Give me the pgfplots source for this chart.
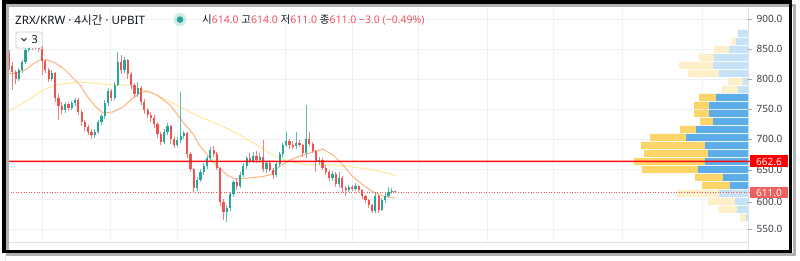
\documentclass[border=0pt]{standalone}
\usepackage{fontspec}
\setmainfont{Noto Sans}
\newfontfamily\cjk{Noto Sans CJK KR}
\usepackage{pgfplots}
\usepackage{pgfplotstable}
\pgfplotsset{compat=1.18}
\definecolor{upc}{HTML}{26A69A}
\definecolor{dnc}{HTML}{EF5350}
\definecolor{gridc}{HTML}{EEF0F4}
\definecolor{vpbs}{HTML}{5DADEA}
\definecolor{vpys}{HTML}{FCD467}
\definecolor{vpbl}{HTML}{C6E2F7}
\definecolor{vpyl}{HTML}{FDEFC8}
\definecolor{maor}{HTML}{FBB27E}
\definecolor{mayel}{HTML}{FFE89A}
\definecolor{txt}{HTML}{131722}
\definecolor{numc}{HTML}{F7525F}
\definecolor{labc}{HTML}{3A3E48}
\definecolor{pline}{HTML}{FC0A0A}
\definecolor{pbox}{HTML}{FF0000}

\pgfplotstableread{
i o h l c
0 843 848 815 822
1 822 828 782 812
2 812 815 792 800
3 800 818 796 815
4 815 832 810 828
5 828 853 825 848
6 848 866 845 858
7 858 865 848 852
8 852 868 848 860
9 860 864 845 850
10 850 855 807 830
11 830 834 810 815
12 815 818 795 800
13 800 815 797 810
14 810 812 762 768
15 768 775 732 755
16 755 762 742 748
17 748 762 744 758
18 758 762 746 752
19 752 764 748 760
20 760 768 755 765
21 765 768 740 745
22 745 748 722 728
23 728 732 714 720
24 720 724 706 712
25 712 716 700 706
26 706 716 702 712
27 712 732 708 728
28 728 742 724 738
29 738 765 734 760
30 760 785 755 780
31 780 784 763 768
32 768 795 765 790
33 790 845 788 828
34 828 840 808 815
35 815 836 810 832
36 832 834 800 808
37 808 812 784 790
38 790 794 768 775
39 775 795 770 785
40 785 788 756 762
41 762 766 742 748
42 748 752 735 740
43 740 745 728 735
44 735 740 718 725
45 725 728 702 708
46 708 712 690 695
47 695 716 692 712
48 712 726 706 722
49 722 724 692 700
50 700 704 685 690
51 690 703 686 698
52 698 778 694 705
53 705 714 700 710
54 710 712 668 675
55 675 678 645 650
56 650 652 610 618
57 618 636 614 632
58 632 650 628 645
59 645 660 640 655
60 655 672 650 668
61 668 687 664 682
62 682 688 670 675
63 675 678 648 652
64 652 654 588 595
65 595 600 565 578
66 578 590 562 585
67 585 612 580 608
68 608 632 604 628
69 628 635 615 622
70 622 645 618 640
71 640 660 636 655
72 655 672 650 668
73 668 676 660 664
74 664 678 660 672
75 672 680 660 665
76 665 676 660 670
77 670 698 645 650
78 650 664 644 660
79 660 665 645 648
80 648 652 634 640
81 640 662 636 658
82 658 678 654 675
83 675 694 670 690
84 690 712 686 697
85 697 700 684 690
86 690 696 684 688
87 688 712 684 694
88 694 698 686 690
89 690 692 670 676
90 676 757 668 700
91 700 712 688 692
92 692 695 676 680
93 680 682 645 662
94 662 670 656 665
95 665 668 648 652
96 652 656 640 645
97 645 648 630 635
98 635 646 630 642
99 642 645 620 625
100 625 645 620 635
101 635 638 612 618
102 618 622 605 615
103 615 624 612 620
104 620 624 613 617
105 617 626 614 622
106 622 624 612 615
107 615 617 600 605
108 605 607 594 598
109 598 600 585 590
110 590 592 576 580
111 580 610 577 605
112 605 608 576 582
113 582 602 580 598
114 598 610 594 605
115 605 620 602 612
116 612 618 608 614
117 614 614 611 611
}\candles

\pgfplotstableread{
x p
8 808.3
15 810
25 815
33 825
40 831.7
47 831.7
55 826.7
63 818.3
72 803.3
80 790
87 771.7
95 755
103 743.3
113 745
123 753.3
133 768.3
140 776.7
147 780
157 773.3
170 756.7
183 728.3
193 708.3
200 688.3
213 661.7
227 640
235 633.3
247 635
260 636.7
270 640
280 655
290 665
303 673.3
313 678.3
323 683.3
333 673.3
343 656.7
353 636.7
363 623.3
373 611.7
383 605
395 601.7
}\maor

\pgfplotstableread{
x p
8 745
20 756.7
33 770
43 781.7
57 790
77 795
93 793.3
110 790
127 790
140 783.3
157 773.3
173 760
180 753.3
200 736.7
220 723.3
240 706.7
260 686.7
273 673.3
287 663.3
303 658.3
320 656.7
333 656.7
347 655
360 651.7
373 648.3
387 643.3
397 638.3
}\mayel

\pgfplotstableread{
y bs ys bl yl
875.83 0 0 10 0
862.50 0 0 12 4
849.17 0 0 19 15
835.83 0 0 34 15
822.50 0 0 35 34
809.17 0 0 29 31
795.83 0 0 5 15
782.50 0 0 10 16
769.17 32 17 0 0
755.83 39 15 0 0
742.50 39 15 0 0
729.17 35 13 0 0
715.83 52 16 0 0
702.50 62 36 0 0
689.17 43 64 0 0
675.83 40 64 0 0
662.50 43 71 0 0
649.17 50 56 0 0
635.83 25 28 0 0
622.50 18 28 0 0
609.17 0 0 29 42
595.83 0 0 13 27
582.50 0 0 11 19
569.17 0 0 2 6
}\vp

\begin{document}
\begin{tikzpicture}
\path[use as bounding box] (0,0) rectangle (800pt,261pt);
\fill[white] (0,0) rectangle (800pt,261pt);
\begin{scope}[shift={(0pt,261pt)}, x=1pt, y=-1pt]
\foreach \py in {19,49,79,109,139,169,199,229}{\draw[gridc, line width=0.8pt] (5,\py) -- (748,\py);}
\foreach \px in {42,110,177,285,352,418,487,553,622,702}{\draw[gridc, line width=0.8pt] (\px,5) -- (\px,242);}
\draw[black!12, line width=0.6pt] (5,242) -- (748,242);
\draw[black!12, line width=0.6pt] (748,4) -- (748,250);
\end{scope}

% volume profile
\begin{axis}[at={(0pt,0pt)}, anchor=south west, scale only axis, width=800pt, height=261pt,
  x dir=reverse, xmin=-52, xmax=748, ymin=496.6667, ymax=931.6667, hide axis,
  xbar stacked, bar width=11.667]
\addplot[fill=vpbs, draw=none] table[x=bs, y=y]{\vp};
\addplot[fill=vpbl, draw=none] table[x=bl, y=y]{\vp};
\addplot[fill=vpys, draw=none] table[x=ys, y=y]{\vp};
\addplot[fill=vpyl, draw=none] table[x=yl, y=y]{\vp};
\end{axis}

% candles and lines
\begin{axis}[at={(0pt,0pt)}, anchor=south west, scale only axis, width=800pt, height=261pt,
  xmin=0, xmax=800, ymin=496.6667, ymax=931.6667, hide axis]
\addplot[no markers, color=mayel, line width=1pt] table[x=x, y=p]{\mayel};
\addplot[no markers, color=maor, line width=1pt] table[x=x, y=p]{\maor};
\addplot[no markers, draw=dnc, dotted, line width=0.6pt] coordinates {(8,611) (750,611)};
% wicks
\addplot[draw=none, no markers, restrict expr to domain={\thisrow{c}-\thisrow{o}}{0:1000},
  error bars/.cd, y dir=both, y explicit, error mark=none,
  error bar style={draw=upc!75, line width=0.9pt}]
  table[x expr=9+3.3*\thisrow{i}, y expr={(\thisrow{h}+\thisrow{l})/2}, y error expr={(\thisrow{h}-\thisrow{l})/2}]{\candles};
\addplot[draw=none, no markers, restrict expr to domain={\thisrow{c}-\thisrow{o}}{-1000:-0.001},
  error bars/.cd, y dir=both, y explicit, error mark=none,
  error bar style={draw=dnc!75, line width=0.9pt}]
  table[x expr=9+3.3*\thisrow{i}, y expr={(\thisrow{h}+\thisrow{l})/2}, y error expr={(\thisrow{h}-\thisrow{l})/2}]{\candles};
% bodies
\addplot[draw=none, no markers, restrict expr to domain={\thisrow{c}-\thisrow{o}}{0:1000},
  error bars/.cd, y dir=both, y explicit, error mark=none,
  error bar style={draw=upc, line width=2.2pt}]
  table[x expr=9+3.3*\thisrow{i}, y expr={(\thisrow{o}+\thisrow{c})/2}, y error expr={max(abs(\thisrow{c}-\thisrow{o})/2,0.7)}]{\candles};
\addplot[draw=none, no markers, restrict expr to domain={\thisrow{c}-\thisrow{o}}{-1000:-0.001},
  error bars/.cd, y dir=both, y explicit, error mark=none,
  error bar style={draw=dnc, line width=2.2pt}]
  table[x expr=9+3.3*\thisrow{i}, y expr={(\thisrow{o}+\thisrow{c})/2}, y error expr={max(abs(\thisrow{c}-\thisrow{o})/2,0.7)}]{\candles};
% last-price line (drawn as a thin filled band)
\addplot[no markers, draw=none, fill=pline] coordinates {(5,661.3) (750,661.3) (750,663.9) (5,663.9)} \closedcycle;
\end{axis}

\begin{scope}[shift={(0pt,261pt)}, x=1pt, y=-1pt]
\foreach \py/\lab in {19/900.0,49/850.0,79/800.0,109/750.0,139/700.0,170/650.0,202/600.0,229/550.0}{
  \draw[black!35, line width=0.6pt] (748,\py) -- (752,\py);
  \node[anchor=west, inner sep=0pt, text=labc, font=\fontsize{10}{12}\selectfont] at (756.5,\py) {\lab};
}
\fill[pbox] (750,155.5) rectangle (788,167.5);
\node[text=white, inner sep=0pt, font=\fontsize{10}{12}\selectfont] at (769,161.5) {662.6};
\fill[dnc!92] (750,187.5) rectangle (788,197.8);
\node[text=white, inner sep=0pt, font=\fontsize{10}{12}\selectfont] at (769,192.6) {611.0};
% legend
\node[anchor=base west, inner sep=0pt, text=txt, font=\fontsize{11.6}{14}\selectfont] at (15,24.2) {ZRX/KRW · 4{\cjk 시간} · UPBIT};
\fill[upc!22] (180,19.6) circle (6.5);
\fill[upc] (180,19.6) circle (3.3);
\node[anchor=base west, inner sep=0pt, text=txt, font=\fontsize{10.5}{13}\selectfont] at (202,23.8)
 {{\cjk 시}\textcolor{numc}{614.0} {\cjk 고}\textcolor{numc}{614.0} {\cjk 저}\textcolor{numc}{611.0} {\cjk 종}\textcolor{numc}{611.0} \textcolor{numc}{−3.0 (−0.49\%)}};
\draw[black!20, fill=white, rounded corners=2pt, line width=0.6pt] (16,32) rectangle (42,48);
\draw[txt, line width=0.9pt] (21.5,38.3) -- (24,40.8) -- (26.5,38.3);
\node[anchor=base west, inner sep=0pt, text=txt, font=\fontsize{11}{13}\selectfont] at (31.5,43.8) {3};
\draw[black!30, line width=3pt] (7.5,6) rectangle (794,255);
\draw[black, line width=3.6pt] (4,2.3) rectangle (790.5,251.5);
\end{scope}
\end{tikzpicture}
\end{document}
